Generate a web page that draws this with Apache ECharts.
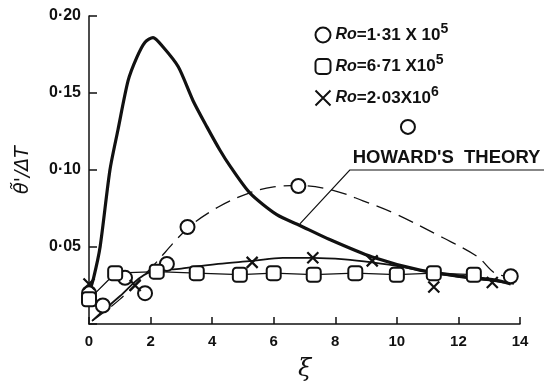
<!DOCTYPE html>
<html>
<head>
<meta charset="utf-8">
<script src="https://cdn.jsdelivr.net/npm/echarts@6/dist/echarts.min.js"></script>
<style>
  html, body { margin: 0; padding: 0; background: #fff; }
  #main { width: 544px; height: 388px; }
</style>
</head>
<body>
<div id="main"></div>
<script>
// values (xi, theta'/dT)
const xTicks = [0, 2, 4, 6, 8, 10, 12, 14];
const yTicks = [0.05, 0.10, 0.15, 0.20];

// Howard's theory (thick solid curve)
const howardXi  = [0, 0.15, 0.36, 0.68, 0.94, 1.27, 1.55, 1.82, 2.08, 2.4, 2.9, 3.38, 3.83, 4.25, 4.6, 5.23, 6.1, 6.85, 7.8, 9.2, 10.75, 12.1, 13.2, 13.7];
const howardVal = [0.020, 0.030, 0.050, 0.100, 0.126, 0.158, 0.173, 0.183, 0.186, 0.180, 0.167, 0.145, 0.128, 0.113, 0.102, 0.085, 0.071, 0.064, 0.055, 0.0435, 0.035, 0.031, 0.0285, 0.026];

// Ro = 1.31e5 (circles) and its dashed fit
const circleXi  = [0, 0.45, 1.17, 1.82, 2.53, 3.2, 6.8, 10.36, 13.7];
const circleVal = [0.020, 0.012, 0.030, 0.020, 0.039, 0.063, 0.0896, 0.128, 0.031];
const circleFitXi  = [0.1, 1, 2, 3.2, 4.2, 5.2, 6.0, 6.8, 7.9, 8.9, 9.9, 11.5, 12.6, 13.3, 13.9];
const circleFitVal = [0.002, 0.016, 0.036, 0.062, 0.076, 0.085, 0.089, 0.090, 0.087, 0.080, 0.072, 0.056, 0.044, 0.032, 0.031];

// Ro = 6.71e5 (squares)
const squareXi  = [0, 0.85, 2.2, 3.5, 4.9, 6.0, 7.3, 8.65, 10.0, 11.2, 12.5];
const squareVal = [0.016, 0.033, 0.034, 0.033, 0.032, 0.033, 0.032, 0.033, 0.032, 0.033, 0.032];

// Ro = 2.03e6 (crosses) and its fit
const crossXi  = [0, 1.5, 5.3, 7.27, 9.2, 11.2, 13.1];
const crossVal = [0.026, 0.025, 0.040, 0.043, 0.041, 0.024, 0.027];
const crossFitXi  = [0.1, 1, 1.9, 3.0, 4.2, 5.3, 6.3, 7.27, 8.3, 9.2, 10.2, 11.2, 12.2, 13.1, 13.8];
const crossFitVal = [0.002, 0.018, 0.033, 0.036, 0.039, 0.041, 0.043, 0.043, 0.042, 0.040, 0.037, 0.033, 0.030, 0.028, 0.026];

// leader line of the "HOWARD'S THEORY" note
const leaderXi  = [6.85, 8.47, 14.8];
const leaderVal = [0.065, 0.100, 0.100];

const zip = (a, b) => a.map((v, i) => [v, b[i]]);
const ink = '#111';
const font = '"Liberation Sans", Arial, sans-serif';

const myChart = echarts.init(document.getElementById('main'));

const legendText = {
  'c': '{i|Ro}{t|=1·31 X 10}{s|5}',
  's': '{i|Ro}{t|=6·71 X10}{s|5}',
  'x': '{i|Ro}{t|=2·03X10}{s|6}'
};

const option = {
  backgroundColor: '#fff',
  animation: false,
  grid: { left: 89, right: 24, top: 16, bottom: 64 },
  legend: {
    orient: 'vertical',
    left: 308,
    top: 17,
    itemWidth: 15,
    itemHeight: 15,
    itemGap: 10,
    data: ['c', 's', 'x'],
    formatter: n => legendText[n],
    textStyle: {
      color: ink,
      rich: {
        i: { fontFamily: font, fontSize: 16, fontStyle: 'italic', fontWeight: 'bold', color: ink },
        t: { fontFamily: font, fontSize: 17, fontWeight: 'bold', color: ink },
        s: { fontFamily: font, fontSize: 14, fontWeight: 'bold', color: ink, padding: [0, 0, 12, 0] }
      }
    }
  },
  xAxis: {
    type: 'value',
    min: 0, max: 14, interval: 2,
    name: 'ξ',
    nameLocation: 'middle',
    nameGap: 34,
    nameTextStyle: { fontFamily: 'DejaVu Serif', fontSize: 24, fontStyle: 'italic', color: ink },
    axisLine: { lineStyle: { color: ink, width: 1.5 } },
    axisTick: { inside: true, length: 7, lineStyle: { color: ink, width: 1.5 } },
    axisLabel: {
      color: ink, fontFamily: font, fontSize: 15, fontWeight: 'bold', margin: 10,
      formatter: v => xTicks.includes(v) ? String(v) : ''
    },
    splitLine: { show: false }
  },
  yAxis: {
    type: 'value',
    min: 0, max: 0.2, interval: 0.05,
    name: "θ\u0303'/ΔT",
    nameLocation: 'middle',
    nameRotate: 90,
    nameGap: 56,
    nameTextStyle: { fontFamily: 'DejaVu Sans', fontSize: 19, fontStyle: 'italic', color: ink },
    axisLine: { lineStyle: { color: ink, width: 1.5 } },
    axisTick: { inside: true, length: 8, lineStyle: { color: ink, width: 1.5 } },
    axisLabel: {
      color: ink, fontFamily: font, fontSize: 16, fontWeight: 'bold', margin: 8,
      formatter: v => {
        const t = yTicks.find(k => Math.abs(k - v) < 1e-9);
        return t === undefined ? '' : t.toFixed(2).replace('.', '·');
      }
    },
    splitLine: { show: false }
  },
  series: [
    {
      name: 'howard', type: 'line', smooth: 0.25, showSymbol: false, silent: true,
      data: zip(howardXi, howardVal),
      lineStyle: { color: ink, width: 3.2 }, z: 3
    },
    {
      name: 'circleFit', type: 'line', smooth: 0.35, showSymbol: false, silent: true,
      data: zip(circleFitXi, circleFitVal),
      lineStyle: { color: ink, width: 1.3, type: [16, 8] }
    },
    {
      name: 'squareFit', type: 'line', showSymbol: false, silent: true,
      data: zip(squareXi, squareVal),
      lineStyle: { color: ink, width: 1.3 }
    },
    {
      name: 'crossFit', type: 'line', smooth: 0.35, showSymbol: false, silent: true,
      data: zip(crossFitXi, crossFitVal),
      lineStyle: { color: ink, width: 1.8 }
    },
    {
      name: 'c', type: 'scatter', symbol: 'circle', symbolSize: 14,
      data: zip(circleXi, circleVal),
      itemStyle: { color: '#fff', borderColor: ink, borderWidth: 2, opacity: 1 }, z: 5
    },
    {
      name: 's', type: 'scatter', symbol: 'roundRect', symbolSize: 14,
      data: zip(squareXi, squareVal),
      itemStyle: { color: '#fff', borderColor: ink, borderWidth: 2, opacity: 1 }, z: 5
    },
    {
      name: 'x', type: 'scatter', symbol: 'path://M0,0L10,10M10,0L0,10', symbolSize: 11,
      data: zip(crossXi, crossVal),
      itemStyle: { color: 'none', borderColor: ink, borderWidth: 2.2, opacity: 1 }, z: 6
    }
  ]
};
myChart.setOption(option);

// leader line and note, placed through the axes
const leaderPts = zip(leaderXi, leaderVal).map(p => myChart.convertToPixel({ gridIndex: 0 }, p));
myChart.setOption({
  graphic: [
    {
      type: 'polyline', silent: true,
      shape: { points: leaderPts },
      style: { stroke: ink, lineWidth: 1.2, fill: null }
    },
    {
      type: 'text', silent: true,
      x: leaderPts[1][0] + 3, y: leaderPts[1][1] - 3,
      style: { text: "HOWARD'S  THEORY", fontFamily: font, fontSize: 18.5, fontWeight: 'bold',
               fill: ink, verticalAlign: 'bottom' }
    }
  ]
});
</script>
</body>
</html>
